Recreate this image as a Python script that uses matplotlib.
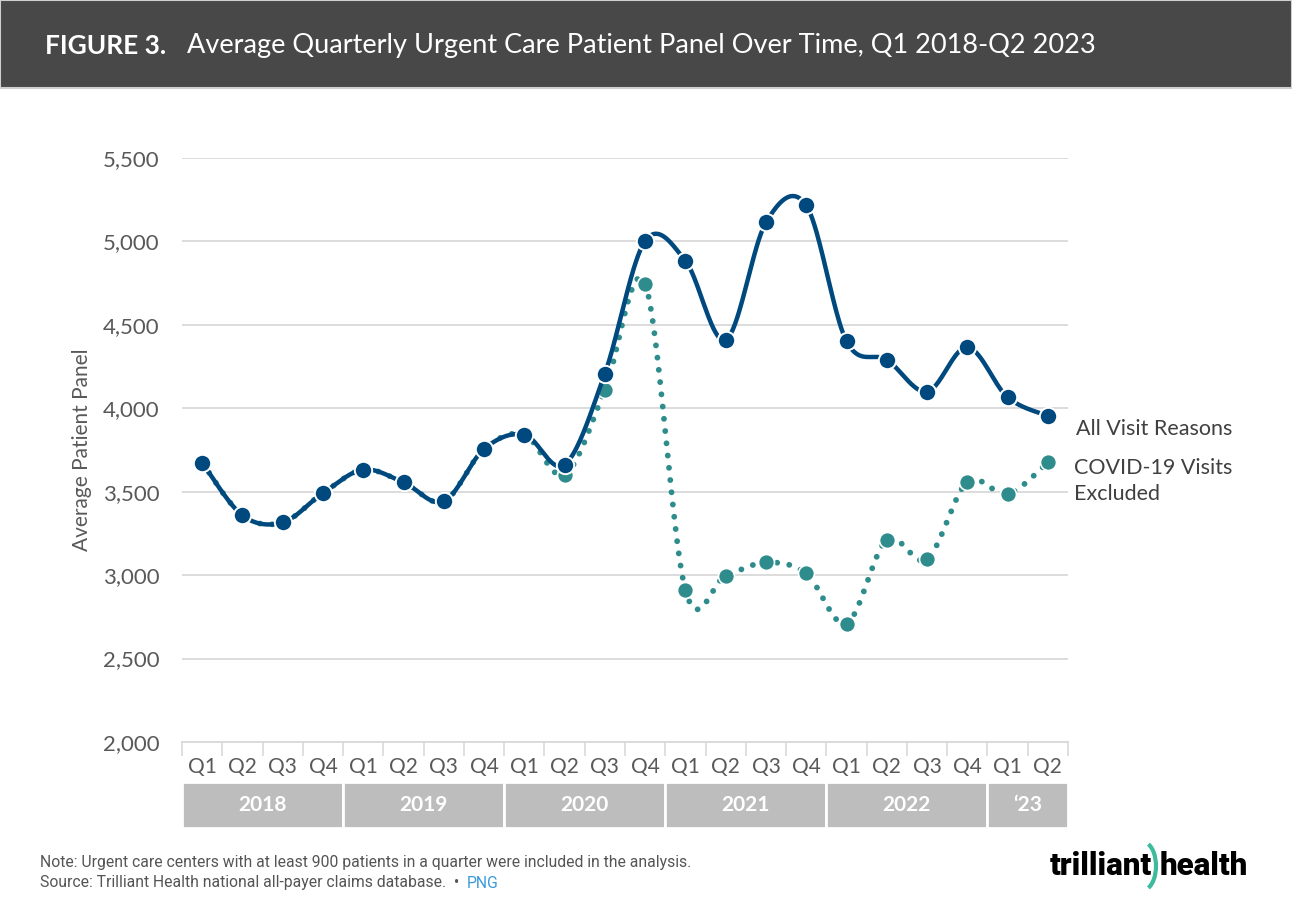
import numpy as np
import matplotlib
matplotlib.use("Agg")
import matplotlib.pyplot as plt
from matplotlib.patches import Rectangle, Arc

plt.rcParams['font.family'] = ['Lato', 'DejaVu Sans']

# quarters Q1 2018 - Q2 2023
quarters = ['Q1', 'Q2', 'Q3', 'Q4'] * 5 + ['Q1', 'Q2']
years = ['2018', '2019', '2020', '2021', '2022', '\u201823']
year_len = [4, 4, 4, 4, 4, 2]

all_visits = [3675, 3358, 3316, 3492, 3632, 3556, 3442, 3756, 3842, 3662, 4208,
              5003, 4884, 4410, 5114, 5216, 4402, 4291, 4100, 4366, 4066, 3954]
no_covid = [3675, 3358, 3316, 3492, 3632, 3556, 3442, 3756, 3842, 3602, 4110,
            4744, 2910, 2996, 3076, 3010, 2710, 3211, 3096, 3558, 3486, 3676]

BLUE = '#00497F'
TEAL = '#2F8C8C'
GRAY = '#595959'


def smooth(x, y, n=40):
    # excel-like smoothed line (catmull-rom as bezier)
    x = np.asarray(x, float)
    y = np.asarray(y, float)
    P = np.column_stack([x, y])
    out = []
    for i in range(len(P) - 1):
        p0 = P[i - 1] if i > 0 else P[i]
        p1 = P[i]
        p2 = P[i + 1]
        p3 = P[i + 2] if i + 2 < len(P) else P[i + 1]
        c1 = p1 + (p2 - p0) / 6
        c2 = p2 - (p3 - p1) / 6
        t = np.linspace(0, 1, n)[:, None]
        seg = (1 - t) ** 3 * p1 + 3 * (1 - t) ** 2 * t * c1 + 3 * (1 - t) * t ** 2 * c2 + t ** 3 * p2
        out.append(seg if i == 0 else seg[1:])
    out = np.vstack(out)
    return out[:, 0], out[:, 1]


fig = plt.figure(figsize=(12.92, 9.24), dpi=100)

# header band
fig.patches.append(Rectangle((0, 1 - 88 / 924), 1, 88 / 924, transform=fig.transFigure,
                             facecolor='#484848', edgecolor='#cfcfcf', lw=1.5))
fig.text(45 / 1292, 1 - 46 / 924, 'FIGURE 3.', color='white', fontsize=19,
         fontweight='bold', va='center', ha='left')
fig.text(187 / 1292, 1 - 46 / 924, 'Average Quarterly Urgent Care Patient Panel Over Time, Q1 2018-Q2 2023',
         color='white', fontsize=19.5, va='center', ha='left')

ax = fig.add_axes([182 / 1292, 1 - 742 / 924, 886 / 1292, 584 / 924])
x = np.arange(len(quarters))

sx, sy = smooth(x, no_covid)
ax.plot(sx, sy, color=TEAL, lw=4.2, linestyle=(0, (0.01, 2.1)),
        dash_capstyle='round', zorder=2)
ax.plot(x, no_covid, 'o', color=TEAL, ms=11.5, mec='white', mew=1.2, zorder=3)

bx, by = smooth(x, all_visits)
ax.plot(bx, by, color=BLUE, lw=3.2, solid_capstyle='round', zorder=4)
ax.plot(x, all_visits, 'o', color=BLUE, ms=12.5, mec='white', mew=1.4, zorder=5)

ax.set_xlim(-0.5, len(quarters) - 0.5)
ax.set_ylim(2000, 5500)
ax.set_yticks(np.arange(2000, 5501, 500))
ax.set_yticklabels([f'{v:,}' for v in range(2000, 5501, 500)], fontsize=16, color=GRAY)
ax.yaxis.grid(True, color='#d9d9d9', lw=1.3)
ax.set_axisbelow(True)
ax.tick_params(axis='y', length=0, pad=16)
ax.set_xticks(x)
ax.set_xticklabels(quarters, fontsize=15, color=GRAY)
ax.tick_params(axis='x', length=0, pad=11)
ax.set_xticks(np.arange(-0.5, len(quarters), 1), minor=True)
ax.tick_params(axis='x', which='minor', length=10, color='#d9d9d9', width=1.2)
for s in ['top', 'right', 'left']:
    ax.spines[s].set_visible(False)
ax.spines['bottom'].set_color('#d9d9d9')
ax.spines['bottom'].set_linewidth(1.3)
ax.set_ylabel('Average Patient Panel', fontsize=15, color=GRAY, labelpad=8)

ax.text(len(quarters) - 0.3, all_visits[-1] - 80, 'All Visit Reasons', fontsize=15.5,
        color='#404040', va='center', ha='left', clip_on=False)
ax.text(len(quarters) - 0.35, no_covid[-1] - 110, 'COVID-19 Visits\nExcluded', fontsize=15.5,
        color='#404040', va='center', ha='left', clip_on=False, linespacing=1.35)

# year band under the quarter labels
yax = fig.add_axes([182 / 1292, 1 - 828 / 924, 886 / 1292, 46 / 924])
yax.set_xlim(-0.5, len(quarters) - 0.5)
yax.set_ylim(0, 1)
start = -0.5
for yr, n in zip(years, year_len):
    yax.add_patch(Rectangle((start, 0), n, 1, facecolor='#bdbdbd', edgecolor='white', lw=2))
    yax.text(start + n / 2, 0.5, yr, color='white', fontsize=15, fontweight='bold',
             ha='center', va='center')
    start += n
yax.axis('off')

# footer
fig.text(40 / 1292, 1 - 862 / 924, 'Note: Urgent care centers with at least 900 patients in a quarter were included in the analysis.',
         fontsize=11.3, color='#555555', family='Roboto', va='center')
src = fig.text(40 / 1292, 1 - 883 / 924, 'Source: Trilliant Health national all-payer claims database.  \u2022  ',
               fontsize=11.3, color='#555555', family='Roboto', va='center')
fig.canvas.draw()
bb = src.get_window_extent()
fig.text(bb.x1 / fig.bbox.width, 1 - 883 / 924, 'PNG', fontsize=11.3, color='#3a9ad9',
         family='Roboto', va='center')

# logo
fig.text(1050 / 1292, 1 - 866 / 924, 'trilliant', fontsize=22.5, fontweight='black',
         color='black', va='center', ha='left', family='Roboto')
fig.text(1160 / 1292, 1 - 866 / 924, 'health', fontsize=22.5, fontweight='black',
         color='black', va='center', ha='left', family='Roboto')
fig.patches.append(Arc((1143 / 1292, 1 - 866 / 924), 26 / 1292, 48 / 924, theta1=-80, theta2=80,
                       transform=fig.transFigure, color='#3dbb9c', lw=3))

fig.savefig('out.png', dpi=100)
